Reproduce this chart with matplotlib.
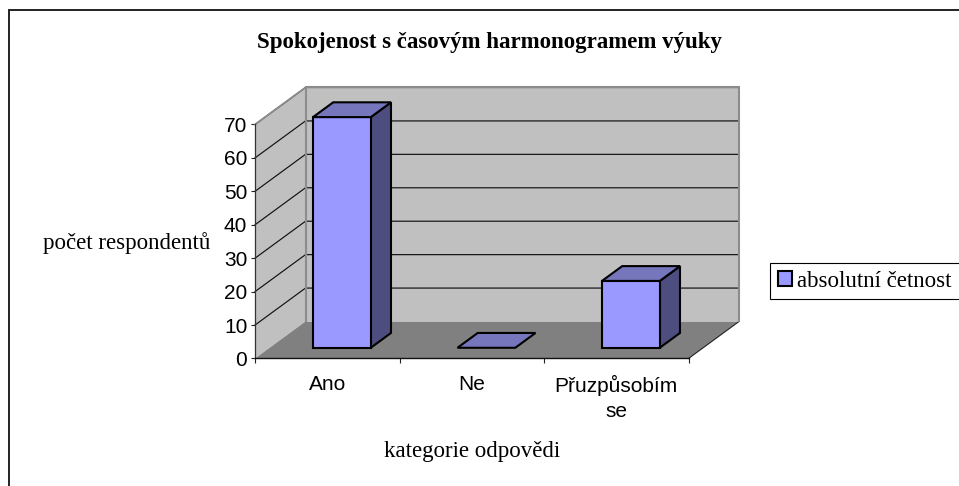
import matplotlib
matplotlib.use("Agg")
import matplotlib.pyplot as plt
from matplotlib.patches import Polygon, Patch
from matplotlib.lines import Line2D

categories = ["Ano", "Ne", "Přuzpůsobím\nse"]
values = [69, 0, 20]
y_ticks = [0, 10, 20, 30, 40, 50, 60, 70]
title = "Spokojenost s časovým harmonogramem výuky"
x_label = "kategorie odpovědi"
y_label = "počet respondentů"
series_name = "absolutní četnost"

W, H = 959, 486
SERIF = "Liberation Serif"
SANS = "Liberation Sans"
FS_SERIF = 16.45
FS_SANS = 15

fig = plt.figure(figsize=(W / 100, H / 100), dpi=100, facecolor="white")
L, R, T, B = 255, 688.5, 124.5, 358.5
ax = fig.add_axes([L / W, 1 - B / H, (R - L) / W, (B - T) / H])
ax.set_xlim(0, len(categories))
ax.set_ylim(0, 70)
ax.patch.set_visible(False)

# depth of the pseudo-3D box, in data units
DX = 50.5 / ((R - L) / 3)
DY = 37 / ((B - T) / 70)


def p(x, y, d=0.0):
    return (x + d * DX, y + d * DY)


WALL, FLOOR = "#c0c0c0", "#808080"
FRONT, TOP, SIDE = "#9999ff", "#7676bd", "#4d4d80"
nx, ny = len(categories), y_ticks[-1]


def poly(points, fc, ec="none", lw=0.0, z=1):
    ax.add_patch(Polygon(points, closed=True, facecolor=fc, edgecolor=ec,
                         linewidth=lw, zorder=z, clip_on=False, joinstyle="miter"))


# walls and floor
poly([p(0, 0), p(0, 0, 1), p(0, ny, 1), p(0, ny)], WALL, z=1)
poly([p(0, 0, 1), p(nx, 0, 1), p(nx, ny, 1), p(0, ny, 1)], WALL, z=1)

# grid
for t in y_ticks[1:]:
    ax.plot(*zip(p(0, t), p(0, t, 1), p(nx, t, 1)), color="#111111", lw=0.85,
            zorder=2, clip_on=False, solid_joinstyle="miter")

poly([p(0, 0), p(nx, 0), p(nx, 0, 1), p(0, 0, 1)], FLOOR, z=3)
ax.plot(*zip(p(nx, 0), p(nx, 0, 1)), color="#222222", lw=0.8, zorder=3, clip_on=False)

# wall borders
ax.plot(*zip(p(0, 0, 1), p(0, ny, 1), p(nx, ny, 1), p(nx, 0, 1)), color="#8c8c8c",
        lw=1.5, zorder=3, clip_on=False, solid_joinstyle="miter")
ax.plot(*zip(p(0, ny), p(0, ny, 1)), color="#8c8c8c", lw=1.3, zorder=3, clip_on=False)

# bars
BW = 0.4
D0, D1 = 0.29, 0.69
for i, v in enumerate(values):
    x0, x1 = i + (1 - BW) / 2, i + (1 + BW) / 2
    e = dict(ec="black", lw=1.5, z=5)
    if v > 0:
        poly([p(x1, 0, D0), p(x1, 0, D1), p(x1, v, D1), p(x1, v, D0)], SIDE, **e)
        poly([p(x0, 0, D0), p(x1, 0, D0), p(x1, v, D0), p(x0, v, D0)], FRONT, **e)
    poly([p(x0, v, D0), p(x1, v, D0), p(x1, v, D1), p(x0, v, D1)], TOP, **e)

# axes
for s in ("top", "right"):
    ax.spines[s].set_visible(False)
ax.spines["left"].set_color("#333333")
ax.spines["left"].set_linewidth(0.9)
ax.spines["left"].set_zorder(4)
ax.spines["bottom"].set_color("#111111")
ax.spines["bottom"].set_linewidth(1.0)
ax.spines["bottom"].set_zorder(4)

ax.set_yticks(y_ticks)
ax.set_yticklabels([str(t) for t in y_ticks], fontname=SANS, fontsize=FS_SANS)
ax.tick_params(axis="y", length=3, width=0.8, pad=2.5, color="#222222")
ax.set_xticks(range(nx + 1))
ax.set_xticklabels([""] * (nx + 1))
ax.tick_params(axis="x", which="major", length=3.5, width=0.8, color="#222222")
ax.set_xticks([i + 0.5 for i in range(nx)], minor=True)
ax.set_xticklabels(categories, minor=True, fontname=SANS, fontsize=FS_SANS, linespacing=1.38)
ax.tick_params(axis="x", which="minor", length=0, pad=12)

# labels
ax.set_title(title, fontname=SERIF, fontweight="bold", fontsize=FS_SERIF,
             x=(489.5 - L) / (R - L), y=(B - 48) / (B - T), pad=0, va="baseline")
ax.set_xlabel(x_label, fontname=SERIF, fontsize=FS_SERIF)
ax.xaxis.set_label_coords(0.5, -(451 - B) / (B - T))
ax.xaxis.label.set_verticalalignment("center")
ax.set_ylabel(y_label, fontname=SERIF, fontsize=FS_SERIF, rotation=0, ha="left", va="center")
ax.yaxis.set_label_coords((43 - L) / (R - L), (B - 243) / (B - T))

# outer frame (only top and left fall inside the picture)
fig.add_artist(Line2D([9 / W, 9 / W, 1], [0, 1 - 10.5 / H, 1 - 10.5 / H],
                      color="#222222", lw=1.4, solid_joinstyle="miter"))

# legend: its box runs past the right edge of the picture
leg = fig.legend(handles=[Patch(facecolor=FRONT, edgecolor="black", linewidth=1.5, label=series_name)],
                 loc="upper left", bbox_to_anchor=(770 / W, 1 - 263 / H, 200 / W, 0), mode="expand",
                 borderaxespad=0, prop={"family": SERIF, "size": FS_SERIF}, fancybox=False,
                 framealpha=1, edgecolor="black", borderpad=0.33, handlelength=0.65,
                 handleheight=0.65, handletextpad=0.22)
leg.get_frame().set_linewidth(0.8)

fig.savefig("out.png", dpi=100, facecolor="white")
